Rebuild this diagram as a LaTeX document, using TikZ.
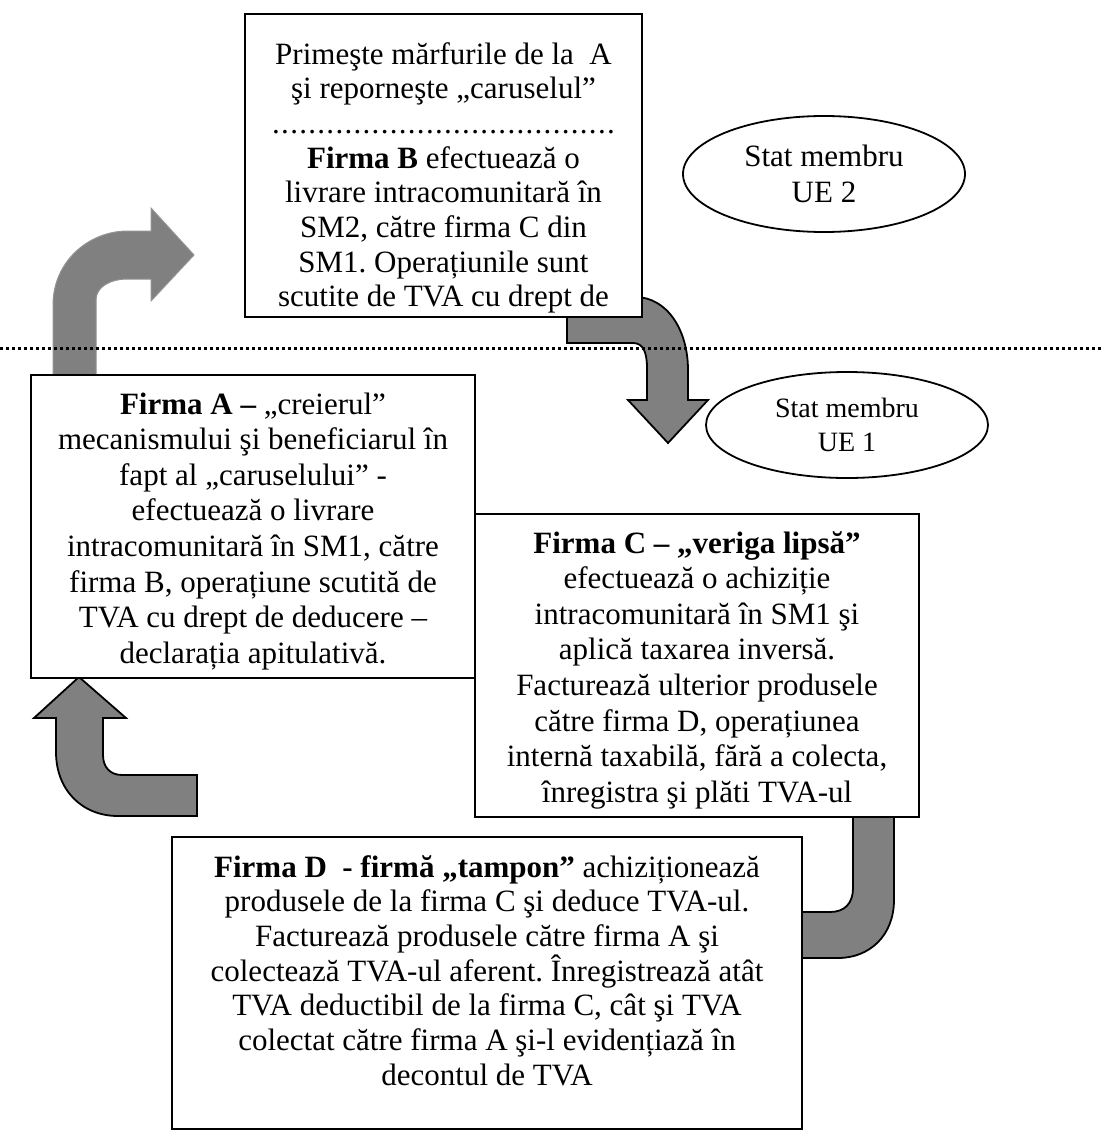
\documentclass[tikz,border=0pt]{standalone}
\usepackage{fontspec}
\setmainfont{Liberation Serif}
\usetikzlibrary{shapes.geometric}
\frenchspacing

\newcommand{\firmtext}[4]{\parbox[c][#2pt][t]{#1pt}{\centering\rule{0pt}{#3pt}#4}}
\newcommand{\dotrow}{\leavevmode\hbox to 344pt{\xleaders\hbox to 9.05pt{\hss.\hss}\hfill}}

\begin{document}
\begin{tikzpicture}[x=1pt,y=-1pt,font=\fontsize{31}{35.6}\selectfont,
  firm/.style={draw,fill=white,line width=2pt,inner sep=0pt,anchor=north west},
  tight/.style={font=\fontsize{31}{34.7}\selectfont},
  stat/.style={draw,ellipse,line width=1.8pt,inner sep=0pt,align=center,minimum width=282pt},
  bloc/.style={fill=black!50,draw=black,line width=1.8pt}]

\useasboundingbox (0,0) rectangle (1102,1135);

% block arrows
\path[bloc,draw=black!42,line width=1pt] (53,380) -- (53,305) .. controls (53,262) and (88,231) .. (128,231) -- (151,231) -- (151,208) -- (194,255) -- (151,301) -- (151,279) -- (128,279) .. controls (110,279) and (96,287) .. (96,300) -- (96,380) -- cycle;
\path[bloc] (567,297) -- (635,297) .. controls (667,297) and (688,330) .. (688,370) -- (688,400) -- (708,400) -- (668,443) -- (628,400) -- (647,400) -- (647,368) .. controls (647,352) and (643,343) .. (633,343) -- (567,343) -- cycle;
\path[bloc] (853,805) -- (853,888) .. controls (853,903) and (845,912) .. (830,912) -- (770,912) -- (770,958) -- (838,958) .. controls (870,958) and (894,935) .. (894,900) -- (894,805) -- cycle;
\path[bloc] (79,677) -- (126,718) -- (103,718) -- (103,755) .. controls (103,767) and (110,775) .. (122,775) -- (197,775) -- (197,816) -- (118,816) .. controls (82,816) and (56,790) .. (56,752) -- (56,718) -- (34,718) -- cycle;

\coordinate (sepW) at (0,348);
\coordinate (sepE) at (1102,348);
\draw[line width=3pt,dash pattern=on 3pt off 3pt] (sepW) -- (sepE);

\node[firm,tight] (firmaB) at (244,13) {\firmtext{397}{303}{50}{Primeşte mărfurile de la\ \ A\\ şi reporneşte „caruselul”\\ \dotrow\\ \textbf{Firma B} efectuează o\\ livrare intracomunitară în\\ SM2, către firma C din\\ SM1. Operațiunile sunt\\ scutite de TVA cu drept de}};
\node[firm] (firmaA) at (30,374) {\firmtext{444}{303}{39}{\textbf{Firma A –} „creierul”\\ mecanismului şi beneficiarul în\\ fapt al „caruselului” -\\ efectuează o livrare\\ intracomunitară în SM1, către\\ firma B, operațiune scutită de\\ TVA cu drept de deducere –\\ declarația apitulativă.}};
\node[firm] (firmaC) at (474,513) {\firmtext{444}{303}{39}{\textbf{Firma C – „veriga lipsă”}\\ efectuează o achiziție\\ intracomunitară în SM1 şi\\ aplică taxarea inversă.\\ Facturează ulterior produsele\\ către firma D, operațiunea\\ internă taxabilă, fără a colecta,\\ înregistra şi plăti TVA-ul}};
\node[firm,tight] (firmaD) at (171,836) {\firmtext{630}{292}{40}{\textbf{Firma D\ \ - firmă „tampon”} achiziționează\\ produsele de la firma C şi deduce TVA-ul.\\ Facturează produsele către firma A şi\\ colectează TVA-ul aferent. Înregistrează atât\\ TVA deductibil de la firma C, cât şi TVA\\ colectat către firma A şi-l evidențiază în\\ decontul de TVA}};

\node[stat,minimum height=116pt,font=\fontsize{31}{36}\selectfont] (sm2) at (824,174) {Stat membru\\UE 2};
\node[stat,minimum height=106pt,font=\fontsize{28}{34}\selectfont] (sm1) at (847,425) {Stat membru\\UE 1};

\end{tikzpicture}
\end{document}
